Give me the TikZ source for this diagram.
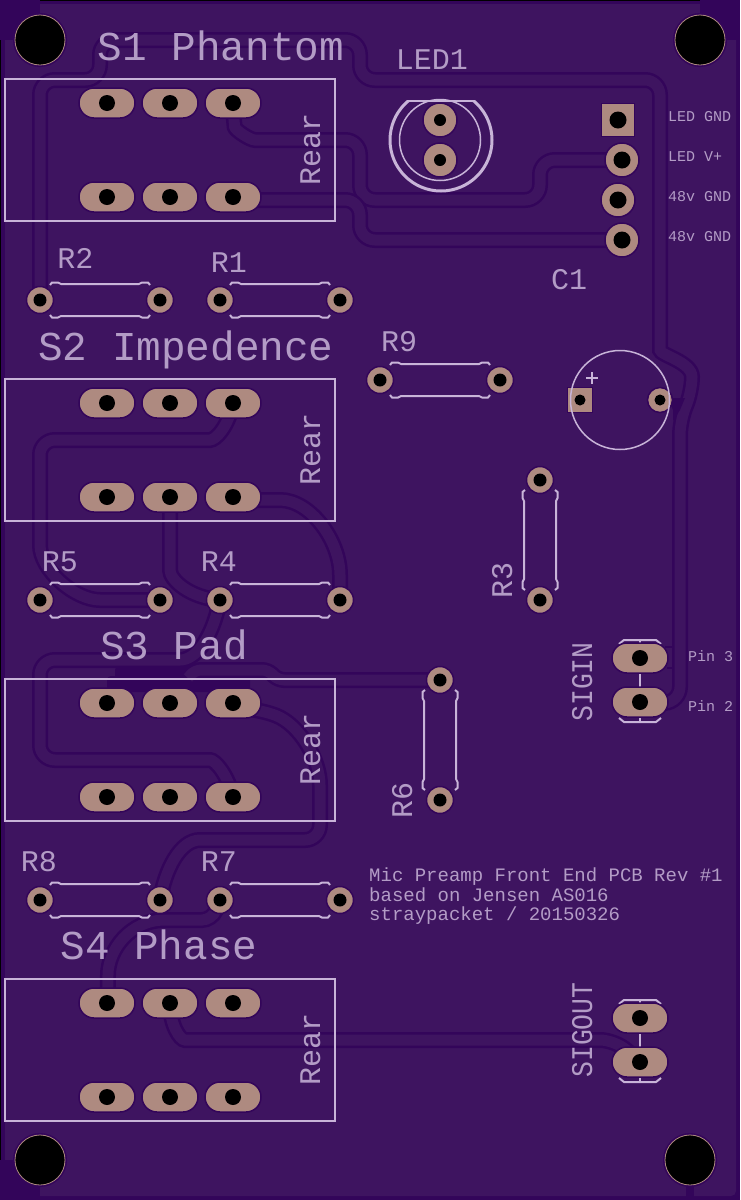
\documentclass[tikz,border=0pt]{standalone}
\usepackage{fontspec}
\setmonofont{Liberation Mono}
\newfontfamily\narrowmono[FakeStretch=0.88]{Liberation Mono}
\definecolor{pourfill}{HTML}{3E1460}
\definecolor{pourdark}{HTML}{33055A}
\definecolor{copper}{HTML}{AE8A80}
\definecolor{silk}{HTML}{C8B4D8}
\colorlet{silktext}{silk!85!pourfill}
\begin{document}
\begin{tikzpicture}[x=1pt,y=-1pt,
    trace/.style={draw=pourdark,double=pourfill,line width=2.5pt,double distance=11pt,rounded corners=15pt},
    edge/.style={draw=pourdark,line width=2.5pt},
    silkline/.style={draw=silk,line width=2pt},
    slotpad/.style={rectangle,rounded corners=15pt,minimum width=56pt,minimum height=30pt,inner sep=0,fill=copper,draw=pourdark,line width=1.5pt},
    roundpad/.style={circle,minimum size=27pt,inner sep=0,fill=copper,draw=pourdark,line width=1.5pt},
    ledpad/.style={circle,minimum size=34pt,inner sep=0,fill=copper,draw=pourdark,line width=1.5pt},
    squarepad/.style={rectangle,inner sep=0,fill=copper,draw=pourdark,line width=1.5pt},
    drill/.style={circle,inner sep=0,fill=black},
    mount/.style={circle,minimum size=50pt,inner sep=0,fill=black,draw=copper,line width=0.8pt},
    bigtext/.style={text=silktext,inner sep=0,anchor=base,font=\fontsize{41}{41}\selectfont\ttfamily},
    midtext/.style={text=silktext,inner sep=0,anchor=base,font=\fontsize{30}{30}\selectfont\ttfamily},
    smalltext/.style={text=silktext,inner sep=0,anchor=base west,font=\fontsize{15}{15}\selectfont\ttfamily},
    notetext/.style={text=silktext,inner sep=0,anchor=base west,font=\fontsize{19}{19}\selectfont\ttfamily}]
  \useasboundingbox (0,0) rectangle (740,1200);

  \fill[pourdark] (0,0) rectangle (740,1200);
  \draw[black,line width=2pt] (0,0) -- (740,0);
  \draw[black,line width=2pt] (0,0) -- (0,1200);
  \fill[pourfill,rounded corners=5pt] (5,4) rectangle (736,1196);
  \fill[pourdark] (0,0) rectangle (40,40);
  \fill[pourdark] (700,0) rectangle (740,40);
  \fill[pourdark] (0,1160) rectangle (40,1200);
  \fill[pourdark] (686,1160) rectangle (694,1200);
  \foreach \x/\y in {40/40,700/40,40/1160,690/1160}
    \fill[pourdark] (\x,\y) circle (27);

  \draw[trace] (40,300) -- (40,80) -- (100,80) -- (100,40) -- (360,40) -- (360,80) -- (660,80) -- (660,335) .. controls (660,355) and (692,362) .. (692,392) -- (680,420) -- (680,702) -- (645,704);
  \fill[pourdark] (668,398) -- (685,398) -- (680,410) -- (673,421) -- (673,410) -- cycle;
  \draw[edge] (665,647) -- (673,647);
  \draw[edge] (667,668) -- (673,668);
  \draw[trace] (233,103) -- (233,112) .. controls (235,130) and (250,140) .. (270,140) -- (360,140) -- (360,200) -- (540,200) -- (540,160) -- (622,160);
  \draw[trace] (233,200) -- (360,200) -- (360,240) -- (622,240);

  \draw[trace] (233,403) .. controls (228,428) and (215,440) .. (195,440) -- (40,440) -- (40,530) .. controls (40,570) and (75,600) .. (115,600) -- (160,600);
  \draw[trace] (170,497) -- (170,555) .. controls (170,580) and (190,598) .. (220,600);
  \draw[trace] (233,500) -- (265,500) .. controls (310,500) and (340,540) .. (340,590) -- (340,600);

  \fill[pourdark,rounded corners=4pt] (115,666) rectangle (200,682);
  \fill[pourdark,rounded corners=4pt] (107,676) rectangle (250,692);
  \draw[trace] (220,600) .. controls (212,640) and (195,660) .. (165,660) -- (40,660) -- (40,760) -- (195,760) .. controls (215,760) and (228,775) .. (233,797);
  \draw[trace,rounded corners=6pt] (440,680) -- (278,680) -- (268,670) -- (195,670) -- (188,678);
  \draw[trace] (233,708) -- (262,710) .. controls (300,725) and (320,760) .. (320,800) -- (320,840) -- (215,840) .. controls (180,840) and (165,870) .. (160,900);
  \draw[trace,rounded corners=10pt] (220,900) -- (212,920) -- (175,920) .. controls (130,920) and (108,950) .. (108,985) -- (107,1003);
  \draw[trace] (170,1003) .. controls (170,1025) and (180,1040) .. (200,1040) -- (615,1040) -- (640,1062);

  \foreach \y in {79,379,679,979}
    \draw[silkline] (5,\y) rectangle (335,\y + 142);
  \foreach \n/\y in {a/100,b/400,c/700,d/1000}
    \foreach \m/\x in {1/107,2/170,3/233}
    {
      \node[slotpad] (pad\n\m) at (\x,\y + 3) {};
      \node[drill,minimum size=16pt] (hole\n\m) at (\x,\y + 3) {};
      \node[slotpad] (pad\n\m b) at (\x,\y + 97) {};
      \node[drill,minimum size=16pt] (hole\n\m b) at (\x,\y + 97) {};
    }

  \foreach \n/\x/\y/\r in {rtwo/100/300/0,rone/280/300/0,rfive/100/600/0,rfour/280/600/0,reight/100/900/0,rseven/280/900/0,rnine/440/380/0,rthree/540/540/90,rsix/440/740/90}
  {
    \begin{scope}[shift={(\x,\y)},rotate=\r]
      \draw[silkline] (-50,-15) -- (-48,-17.5) -- (-42,-17.5) -- (-39,-16) -- (39,-16) -- (42,-17.5) -- (48,-17.5) -- (50,-15);
      \draw[silkline] (-50,15) -- (-48,17.5) -- (-42,17.5) -- (-39,16) -- (39,16) -- (42,17.5) -- (48,17.5) -- (50,15);
      \node[roundpad] (\n a) at (-60,0) {};
      \node[drill,minimum size=13pt] (\n ah) at (-60,0) {};
      \node[roundpad] (\n b) at (60,0) {};
      \node[drill,minimum size=13pt] (\n bh) at (60,0) {};
    \end{scope}
  }

  \begin{scope}
    \clip (380,100.5) rectangle (500,200);
    \draw[silk,line width=3pt] (441,140) circle (51);
  \end{scope}
  \draw[silkline] (408,101) -- (473,101);
  \draw[silk,line width=1.5pt] (440,140) circle (40.5);
  \node[ledpad] (ledtop) at (440,120) {};
  \node[drill,minimum size=12pt] (ledtoph) at (440,120) {};
  \node[ledpad] (ledbot) at (440,160) {};
  \node[drill,minimum size=12pt] (ledboth) at (440,160) {};

  \node[squarepad,minimum size=33pt] (hdra) at (618,120) {};
  \node[drill,minimum size=17pt] (hdrah) at (618,120) {};
  \node[ledpad] (hdrb) at (622,160) {};
  \node[drill,minimum size=17pt] (hdrbh) at (622,160) {};
  \node[ledpad] (hdrc) at (618,200) {};
  \node[drill,minimum size=17pt] (hdrch) at (618,200) {};
  \node[ledpad] (hdrd) at (622,240) {};
  \node[drill,minimum size=17pt] (hdrdh) at (622,240) {};

  \node[squarepad,minimum size=25pt] (capa) at (580,400) {};
  \node[drill,minimum size=11pt] (capah) at (580,400) {};
  \node[roundpad,minimum size=25pt] (capb) at (660,400) {};
  \node[drill,minimum size=11pt] (capbh) at (660,400) {};
  \draw[silk,line width=1.5pt] (620,400) circle (49.5);
  \draw[silkline] (586,378) -- (598,378);
  \draw[silkline] (592,372) -- (592,384);

  \foreach \n/\y in {sigin/640,sigout/1000}
  {
    \draw[silkline] (619,\y + 4) -- (624,\y) -- (656,\y) -- (661,\y + 4);
    \draw[silkline] (619,\y + 78) -- (624,\y + 82) -- (656,\y + 82) -- (661,\y + 78);
    \draw[silkline] (640,\y) -- (640,\y + 82);
    \node[slotpad] (\n a) at (640,\y + 18) {};
    \node[drill,minimum size=16pt] (\n ah) at (640,\y + 18) {};
    \node[slotpad] (\n b) at (640,\y + 62) {};
    \node[drill,minimum size=16pt] (\n bh) at (640,\y + 62) {};
  }

  \foreach \x/\y in {40/40,700/40,40/1160,690/1160}
    \node[mount] (mount\x\y) at (\x,\y) {};

  \node[bigtext] (sone) at (221,60) {S1 Phantom};
  \node[bigtext] (stwo) at (186,360) {S2 Impedence};
  \node[bigtext] (sthree) at (174,659) {S3 Pad};
  \node[bigtext] (sfour) at (159,959) {S4 Phase};
  \foreach \y in {149,449,749,1049}
    \node[midtext,rotate=90] (rear\y) at (320,\y) {Rear};

  \node[midtext] (ltwo) at (75.5,268) {R2};
  \node[midtext] (lone) at (229,272) {R1};
  \node[midtext] (lfive) at (60,571) {R5};
  \node[midtext] (lfour) at (219,571) {R4};
  \node[midtext] (leight) at (39,871) {R8};
  \node[midtext] (lseven) at (219,871) {R7};
  \node[midtext] (lnine) at (399,351) {R9};
  \node[midtext] (lcap) at (569,289) {C1};
  \node[midtext] (lled) at (432,69) {LED1};
  \node[midtext,rotate=90] (lthree) at (512,580) {R3};
  \node[midtext,rotate=90] (lsix) at (412,800.5) {R6};
  \node[midtext,rotate=90] (lsigin) at (592,682) {\narrowmono SIGIN};
  \node[midtext,rotate=90] (lsigout) at (592,1030) {\narrowmono SIGOUT};

  \node[smalltext] (pina) at (668,121) {LED GND};
  \node[smalltext] (pinb) at (668,161) {LED V+};
  \node[smalltext] (pinc) at (668,201) {48v GND};
  \node[smalltext] (pind) at (668,241) {48v GND};
  \node[smalltext] (pinthree) at (688,661) {Pin 3};
  \node[smalltext] (pintwo) at (688,711) {Pin 2};

  \node[notetext] (notea) at (369,881.5) {Mic Preamp Front End PCB Rev \#1};
  \node[notetext] (noteb) at (369,901) {based on Jensen AS016};
  \node[notetext] (notec) at (369,920.5) {straypacket / 20150326};
\end{tikzpicture}
\end{document}
